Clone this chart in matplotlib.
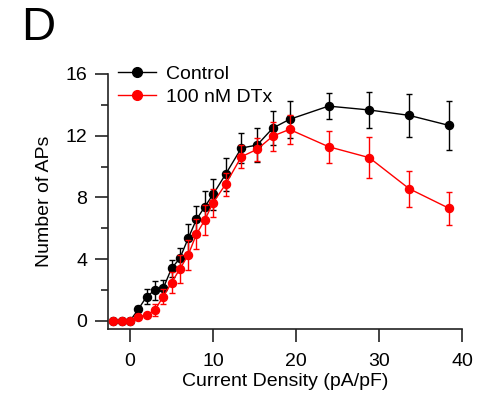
import matplotlib
matplotlib.use("Agg")
import matplotlib.pyplot as plt
from matplotlib.lines import Line2D
from matplotlib.ticker import MultipleLocator

plt.rcParams["font.family"] = ["Liberation Sans", "DejaVu Sans"]

# current density steps (pA/pF)
density = [-2, -1, 0, 1, 2, 3, 4, 5, 6, 7, 8, 9, 10, 11.5, 13.4, 15.3, 17.2,
           19.2, 23.9, 28.8, 33.6, 38.4]

control_mean = [0, 0, 0, 0.76, 1.58, 2.0, 2.12, 3.41, 4.06, 5.35, 6.58, 7.4,
                8.2, 9.5, 11.2, 11.4, 12.5, 13.06, 13.92, 13.67, 13.32, 12.67]
control_err = [0, 0, 0, 0.2, 0.5, 0.62, 0.55, 0.54, 0.65, 0.93, 0.9, 1.04,
               1.03, 1.08, 0.97, 1.08, 1.08, 1.2, 0.83, 1.19, 1.4, 1.6]

dtx_mean = [0, 0, 0, 0.28, 0.39, 0.71, 1.58, 2.48, 3.37, 4.27, 5.63, 6.54,
            7.66, 8.85, 10.64, 11.12, 11.98, 12.41, 11.29, 10.58, 8.57, 7.3]
dtx_err = [0, 0, 0, 0.1, 0.15, 0.38, 0.5, 0.7, 0.9, 0.97, 0.97, 0.97, 0.9,
           0.76, 0.76, 0.76, 0.94, 0.93, 1.04, 1.32, 1.17, 1.07]

RED = "#ff0000"

fig = plt.figure(figsize=(4.87, 4.04), dpi=100)
ax = fig.add_axes([108 / 487, 75 / 404, (462.3 - 108) / 487, (329 - 74) / 404])

ax.errorbar(density, control_mean, yerr=control_err, color="black", marker="o",
            ms=5.8, lw=1.0, elinewidth=1.0, capsize=2.5, capthick=1.0,
            zorder=3)
ax.errorbar(density, dtx_mean, yerr=dtx_err, color=RED, marker="o",
            ms=5.8, lw=1.0, elinewidth=1.0, capsize=2.5, capthick=1.0,
            zorder=4)

ax.set_xlim(-2.65, 40)
ax.set_ylim(-0.52, 16)
ax.spines["top"].set_visible(False)
ax.spines["right"].set_visible(False)
for s in ("left", "bottom"):
    ax.spines[s].set_linewidth(1.2)
    ax.spines[s].set_color("#222222")

ax.xaxis.set_major_locator(MultipleLocator(10))
ax.yaxis.set_major_locator(MultipleLocator(4))
ax.yaxis.set_minor_locator(MultipleLocator(2))
ax.tick_params(which="major", direction="out", length=9.5, width=1.2,
               labelsize=14, color="#222222")
ax.tick_params(axis="x", which="major", pad=8)
ax.tick_params(axis="y", which="major", pad=5.5)
ax.tick_params(which="minor", direction="out", length=5, width=1.2,
               color="#222222")

ax.set_xlabel("Current Density (pA/pF)", fontsize=14, labelpad=2)
ax.set_ylabel("Number of APs", fontsize=14, labelpad=9)

handles = [Line2D([], [], color="black", marker="o", ms=7, lw=1.0),
           Line2D([], [], color=RED, marker="o", ms=7, lw=1.0)]
ax.legend(handles, ["Control", "100 nM DTx"], loc="upper left",
          bbox_to_anchor=(118 / 487, 1 - 65 / 404),
          bbox_transform=fig.transFigure, frameon=False, fontsize=14,
          borderpad=0, borderaxespad=0, handlelength=1.95,
          handletextpad=0.5, labelspacing=0.3)

fig.text(21 / 487, 1 - 6 / 404, "D", fontsize=34, va="top", ha="left")

fig.savefig("out.png", dpi=100)
